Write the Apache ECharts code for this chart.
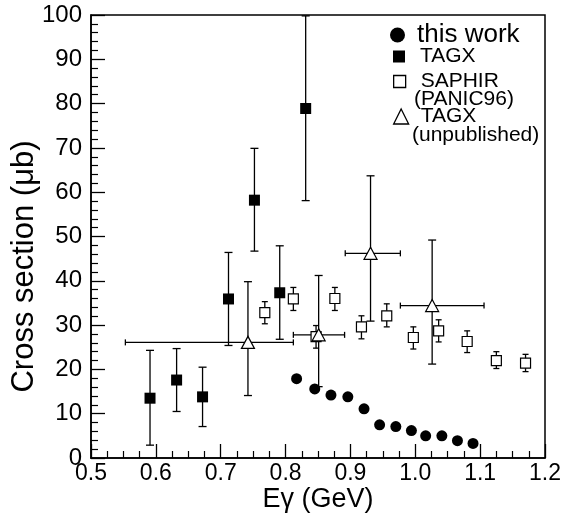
<!DOCTYPE html>
<html>
<head>
<meta charset="utf-8">
<script src="https://cdn.jsdelivr.net/npm/echarts@6/dist/echarts.min.js"></script>
<style>html,body{margin:0;padding:0;background:#fff;}#c{width:563px;height:526px;}</style>
</head>
<body>
<div id="c"></div>
<script>
// ---- data ----
const thisWorkE = [0.817, 0.845, 0.870, 0.896, 0.921, 0.945, 0.970, 0.994, 1.016, 1.041, 1.065, 1.089];
const thisWorkS = [17.9, 15.6, 14.2, 13.8, 11.1, 7.5, 7.1, 6.2, 5.0, 5.0, 3.9, 3.3];

const tagxE  = [0.591, 0.632, 0.672, 0.712, 0.752, 0.791, 0.831];
const tagxS  = [13.5, 17.6, 13.8, 35.9, 58.2, 37.3, 78.9];
const tagxLo = [2.9, 10.5, 7.1, 25.4, 46.7, 26.8, 58.1];
const tagxHi = [24.3, 24.7, 20.5, 46.4, 69.9, 47.9, 99.8];

const saphirE  = [0.768, 0.812, 0.847, 0.876, 0.917, 0.956, 0.997, 1.036, 1.080, 1.125, 1.170];
const saphirS  = [32.8, 35.9, 27.4, 36.0, 29.6, 32.1, 27.2, 28.7, 26.3, 22.0, 21.4];
const saphirLo = [30.3, 33.3, 24.8, 33.3, 26.9, 29.6, 24.6, 26.2, 23.8, 20.2, 19.5];
const saphirHi = [35.3, 38.5, 29.9, 38.5, 32.1, 34.8, 29.6, 31.2, 28.7, 24.0, 23.4];

const tagxuE   = [0.742, 0.851, 0.931, 1.026];
const tagxuS   = [26.1, 27.8, 46.2, 34.4];
const tagxuLo  = [14.1, 16.1, 30.9, 21.2];
const tagxuHi  = [39.8, 41.2, 63.7, 49.2];
const tagxuELo = [0.553, 0.812, 0.892, 0.977];
const tagxuEHi = [0.812, 0.891, 0.977, 1.106];

const xTicks = [0.5, 0.6, 0.7, 0.8, 0.9, 1.0, 1.1, 1.2];
const yTicks = [0, 10, 20, 30, 40, 50, 60, 70, 80, 90, 100];

const legendNames = ['this work', 'TAGX', 'SAPHIR', 'TAGX '];
const legendSubs = ['(PANIC96)', '(unpublished)'];

// ---- build ----
const FONT = '"Liberation Sans", Arial, Helvetica, sans-serif';
const zip = (...arrs) => arrs[0].map((_, i) => arrs.map(a => a[i]));

function errRender(cap, hcap) {
  return function (params, api) {
    const x = api.value(0), lo = api.value(1), hi = api.value(2);
    const pLo = api.coord([x, lo]), pHi = api.coord([x, hi]);
    const st = { stroke: '#000', lineWidth: 1.3 };
    const ch = [
      { type: 'line', shape: { x1: pLo[0], y1: pLo[1], x2: pHi[0], y2: pHi[1] }, style: st },
      { type: 'line', shape: { x1: pLo[0] - cap, y1: pLo[1], x2: pLo[0] + cap, y2: pLo[1] }, style: st },
      { type: 'line', shape: { x1: pHi[0] - cap, y1: pHi[1], x2: pHi[0] + cap, y2: pHi[1] }, style: st }
    ];
    if (hcap) {
      const y = api.value(3), xl = api.value(4), xh = api.value(5);
      const a = api.coord([xl, y]), b = api.coord([xh, y]);
      ch.push({ type: 'line', shape: { x1: a[0], y1: a[1], x2: b[0], y2: b[1] }, style: st });
      ch.push({ type: 'line', shape: { x1: a[0], y1: a[1] - hcap, x2: a[0], y2: a[1] + hcap }, style: st });
      ch.push({ type: 'line', shape: { x1: b[0], y1: b[1] - hcap, x2: b[0], y2: b[1] + hcap }, style: st });
    }
    return { type: 'group', children: ch };
  };
}

function mkLegend(name, left, top, size, padLeft, fontSize, icon, style) {
  return {
    data: [{ name: name, icon: icon }],
    left: left, top: top, padding: 0, orient: 'vertical',
    itemWidth: size, itemHeight: size,
    selectedMode: false,
    itemStyle: style,
    textStyle: { fontFamily: FONT, fontSize: fontSize, color: '#000', padding: [0, 0, 0, padLeft] }
  };
}

const chart = echarts.init(document.getElementById('c'), null, { renderer: 'canvas' });
chart.setOption({
  backgroundColor: '#fff',
  animation: false,
  grid: { left: 91, right: 18, top: 15, bottom: 68, containLabel: false, outerBoundsMode: 'none', show: true, borderColor: '#000', borderWidth: 1.5, backgroundColor: 'transparent' },
  xAxis: {
    type: 'value', min: xTicks[0], max: xTicks[xTicks.length - 1], interval: 0.1,
    name: 'Eγ (GeV)', nameLocation: 'middle', nameGap: 28, nameMoveOverlap: false,
    nameTextStyle: { fontFamily: FONT, fontSize: 27, color: '#000' },
    axisLine: { lineStyle: { color: '#000', width: 1.5 } },
    axisTick: { inside: true, length: 14, lineStyle: { color: '#000', width: 1.3 } },
    minorTick: { show: true, splitNumber: 4, length: 7, lineStyle: { color: '#000', width: 1.2 } },
    splitLine: { show: false },
    axisLabel: { fontFamily: FONT, fontSize: 23, color: '#000', margin: 4, formatter: v => v.toFixed(1), showMaxLabel: true, showMinLabel: true }
  },
  yAxis: {
    type: 'value', min: yTicks[0], max: yTicks[yTicks.length - 1], interval: 10,
    name: 'Cross section (μb)', nameLocation: 'middle', nameGap: 51, nameRotate: 90, nameMoveOverlap: false,
    nameTextStyle: { fontFamily: FONT, fontSize: 31, color: '#000', padding: [0, 60, 0, 0] },
    axisLine: { lineStyle: { color: '#000', width: 1.5 } },
    axisTick: { inside: true, length: 14, lineStyle: { color: '#000', width: 1.3 } },
    minorTick: { show: true, splitNumber: 5, length: 7, lineStyle: { color: '#000', width: 1.2 } },
    splitLine: { show: false },
    axisLabel: { fontFamily: FONT, fontSize: 24, color: '#000', margin: 9 }
  },
  legend: [
    mkLegend(legendNames[0], 390, 22, 15, 7, 26, 'circle', { color: '#000', borderWidth: 0 }),
    mkLegend(legendNames[1], 393, 46, 12, 10, 21, 'rect', { color: '#000', borderWidth: 0 }),
    mkLegend(legendNames[2], 393, 71, 12, 10, 21, 'rect', { color: '#fff', borderColor: '#000', borderWidth: 1.3 }),
    mkLegend(legendNames[3], 393, 106, 15, 7, 21, 'triangle', { color: '#fff', borderColor: '#000', borderWidth: 1.3 })
  ],
  graphic: [
    { type: 'text', left: 414, top: 89, style: { text: legendSubs[0], font: '21px ' + FONT, fill: '#000' } },
    { type: 'text', left: 412, top: 125, style: { text: legendSubs[1], font: '21px ' + FONT, fill: '#000' } }
  ],
  series: [
    { type: 'custom', name: 'tagxErr', renderItem: errRender(4, 0), data: zip(tagxE, tagxLo, tagxHi), encode: { x: 0, y: [1, 2] }, z: 2, silent: true },
    { type: 'custom', name: 'saphirErr', renderItem: errRender(3, 0), data: zip(saphirE, saphirLo, saphirHi), encode: { x: 0, y: [1, 2] }, z: 2, silent: true },
    { type: 'custom', name: 'tagxuErr', renderItem: errRender(4, 3), data: zip(tagxuE, tagxuLo, tagxuHi, tagxuS, tagxuELo, tagxuEHi), encode: { x: [0, 4, 5], y: [1, 2] }, z: 2, silent: true },
    { type: 'scatter', name: legendNames[1], data: zip(tagxE, tagxS), symbol: 'rect', symbolSize: 11, itemStyle: { color: '#000', opacity: 1 }, z: 3 },
    { type: 'scatter', name: legendNames[2], data: zip(saphirE, saphirS), symbol: 'rect', symbolSize: 10, itemStyle: { color: '#fff', borderColor: '#000', borderWidth: 1.2, opacity: 1 }, z: 4 },
    { type: 'scatter', name: legendNames[3], data: zip(tagxuE, tagxuS), symbol: 'triangle', symbolSize: [13, 12], itemStyle: { color: '#fff', borderColor: '#000', borderWidth: 1.2, opacity: 1 }, z: 5 },
    { type: 'scatter', name: legendNames[0], data: zip(thisWorkE, thisWorkS), symbol: 'circle', symbolSize: 11, itemStyle: { color: '#000', opacity: 1 }, z: 6 }
  ]
});
</script>
</body>
</html>
